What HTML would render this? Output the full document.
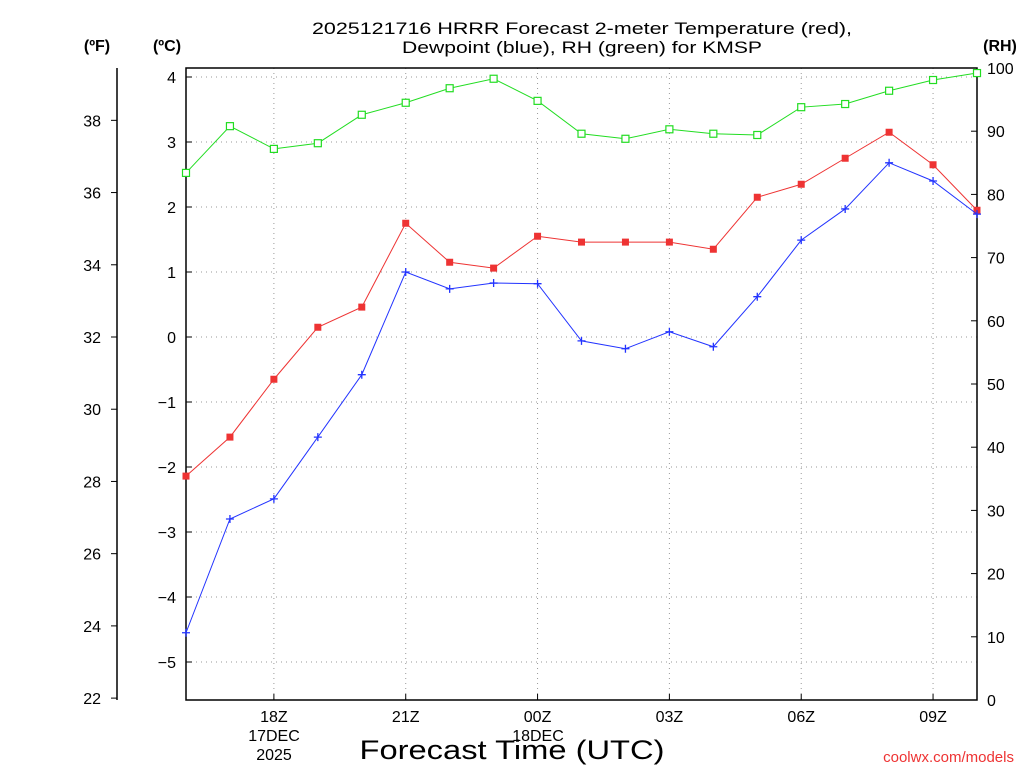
<!DOCTYPE html>
<html><head><meta charset="utf-8"><style>
body{margin:0;background:#fff;}
svg{display:block;font-family:"Liberation Sans",sans-serif;}
</style></head><body>
<svg id="c" width="1024" height="768">
<text x="582" y="34" font-size="17" text-anchor="middle" textLength="540" lengthAdjust="spacingAndGlyphs">2025121716 HRRR Forecast 2-meter Temperature (red),</text>
<text x="582" y="53" font-size="17" text-anchor="middle" textLength="360" lengthAdjust="spacingAndGlyphs">Dewpoint (blue), RH (green) for KMSP</text>
<text x="97" y="51" font-size="16" font-weight="bold" text-anchor="middle">(ºF)</text>
<text x="167" y="51" font-size="16" font-weight="bold" text-anchor="middle">(ºC)</text>
<text x="1000" y="51" font-size="16" font-weight="bold" text-anchor="middle">(RH)</text>
<text x="512" y="759" font-size="27" text-anchor="middle" textLength="305" lengthAdjust="spacingAndGlyphs">Forecast Time (UTC)</text>
<text x="1014" y="762" font-size="15" fill="#e33" text-anchor="end">coolwx.com/models</text>
</svg>
<script>
const hours=[16,17,18,19,20,21,22,23,0,1,2,3,4,5,6,7,8,9,10];
const tempC=[-2.14,-1.54,-0.65,0.15,0.46,1.75,1.15,1.06,1.55,1.46,1.46,1.46,1.35,2.15,2.35,2.75,3.15,2.65,1.95];
const dewC=[-4.55,-2.8,-2.49,-1.54,-0.58,1.0,0.74,0.83,0.82,-0.06,-0.18,0.08,-0.15,0.62,1.49,1.97,2.68,2.4,1.89];
const rh=[83.4,90.8,87.2,88.1,92.6,94.5,96.8,98.3,94.8,89.6,88.8,90.3,89.6,89.4,93.8,94.3,96.4,98.1,99.2];
const cTicks=[4,3,2,1,0,-1,-2,-3,-4,-5];
const fTicks=[22,24,26,28,30,32,34,36,38];
const rhTicks=[0,10,20,30,40,50,60,70,80,90,100];
const xTickIdx=[2,5,8,11,14,17];
const xTickLabels=["18Z","21Z","00Z","03Z","06Z","09Z"];

const L=186,R=977,T=68,B=700;
const xs=i=>L+i*(R-L)/(hours.length-1);
const yC=c=>337-c*65;
const yF=f=>yC((f-32)/1.8);
const yRH=v=>B-v*(B-T)/100;
const svg=document.getElementById('c');
const NS="http://www.w3.org/2000/svg";
function mk(t,a,txt){const e=document.createElementNS(NS,t);for(const k in a)e.setAttribute(k,a[k]);if(txt!==undefined)e.textContent=txt;svg.appendChild(e);return e;}

cTicks.forEach(c=>{const e=mk('line',{x1:L,x2:R,y1:yC(c),y2:yC(c),stroke:'#999','stroke-dasharray':'1,4'});

});
xTickIdx.forEach(i=>{const e=mk('line',{x1:xs(i),x2:xs(i),y1:T,y2:B,stroke:'#999','stroke-dasharray':'1,4'});

});
const fr=mk('rect',{x:L,y:T,width:R-L,height:B-T,fill:'none',stroke:'#000','stroke-width':1.5});


cTicks.forEach(c=>{const y=yC(c);
const t=mk('line',{x1:L,x2:L+6,y1:y,y2:y,stroke:'#000'});
const l=mk('text',{x:176,y:y+6,'font-size':16,'text-anchor':'end'},c<0?'\u2212'+(-c):String(c));

});
const fa=mk('line',{x1:117,x2:117,y1:T,y2:B,stroke:'#000','stroke-width':1.5});


fTicks.forEach(f=>{const y=yF(f);
const t=mk('line',{x1:111,x2:117,y1:y,y2:y,stroke:'#000'});
const l=mk('text',{x:101,y:y+6,'font-size':16,'text-anchor':'end'},String(f));

});
rhTicks.forEach(v=>{const y=yRH(v);
const t=mk('line',{x1:R-6,x2:R,y1:y,y2:y,stroke:'#000'});
const l=mk('text',{x:987,y:y+6,'font-size':16},String(v));

});
xTickIdx.forEach((i,k)=>{const x=xs(i);
const t=mk('line',{x1:x,x2:x,y1:B-6,y2:B,stroke:'#000'});
const l=mk('text',{x:x,y:722,'font-size':16,'text-anchor':'middle'},xTickLabels[k]);

});
[["17DEC",274,741],["2025",274,760],["18DEC",538,741]].forEach(d=>{const l=mk('text',{x:d[1],y:d[2],'font-size':16,'text-anchor':'middle'},d[0]);

});

function series(vals,yf,color,marker,name){
const p=mk('polyline',{points:vals.map((v,i)=>xs(i)+','+yf(v)).join(' '),fill:'none',stroke:color,'stroke-width':1});


vals.forEach((v,i)=>{const x=xs(i),y=yf(v);let m;
if(marker==='sq')m=mk('rect',{x:x-3.5,y:y-3.5,width:7,height:7,fill:color});
else if(marker==='open')m=mk('rect',{x:x-3.5,y:y-3.5,width:7,height:7,fill:'#fff',stroke:color,'stroke-width':1.2});
else m=mk('path',{d:`M${x-4},${y}H${x+4}M${x},${y-4}V${y+4}`,stroke:color,'stroke-width':1.3});

});}
series(rh,yRH,'#22dd22','open','rh');
series(tempC,yC,'#ee3333','sq','temperature');
series(dewC,yC,'#2233ff','plus','dewpoint');
</script>
</body></html>
